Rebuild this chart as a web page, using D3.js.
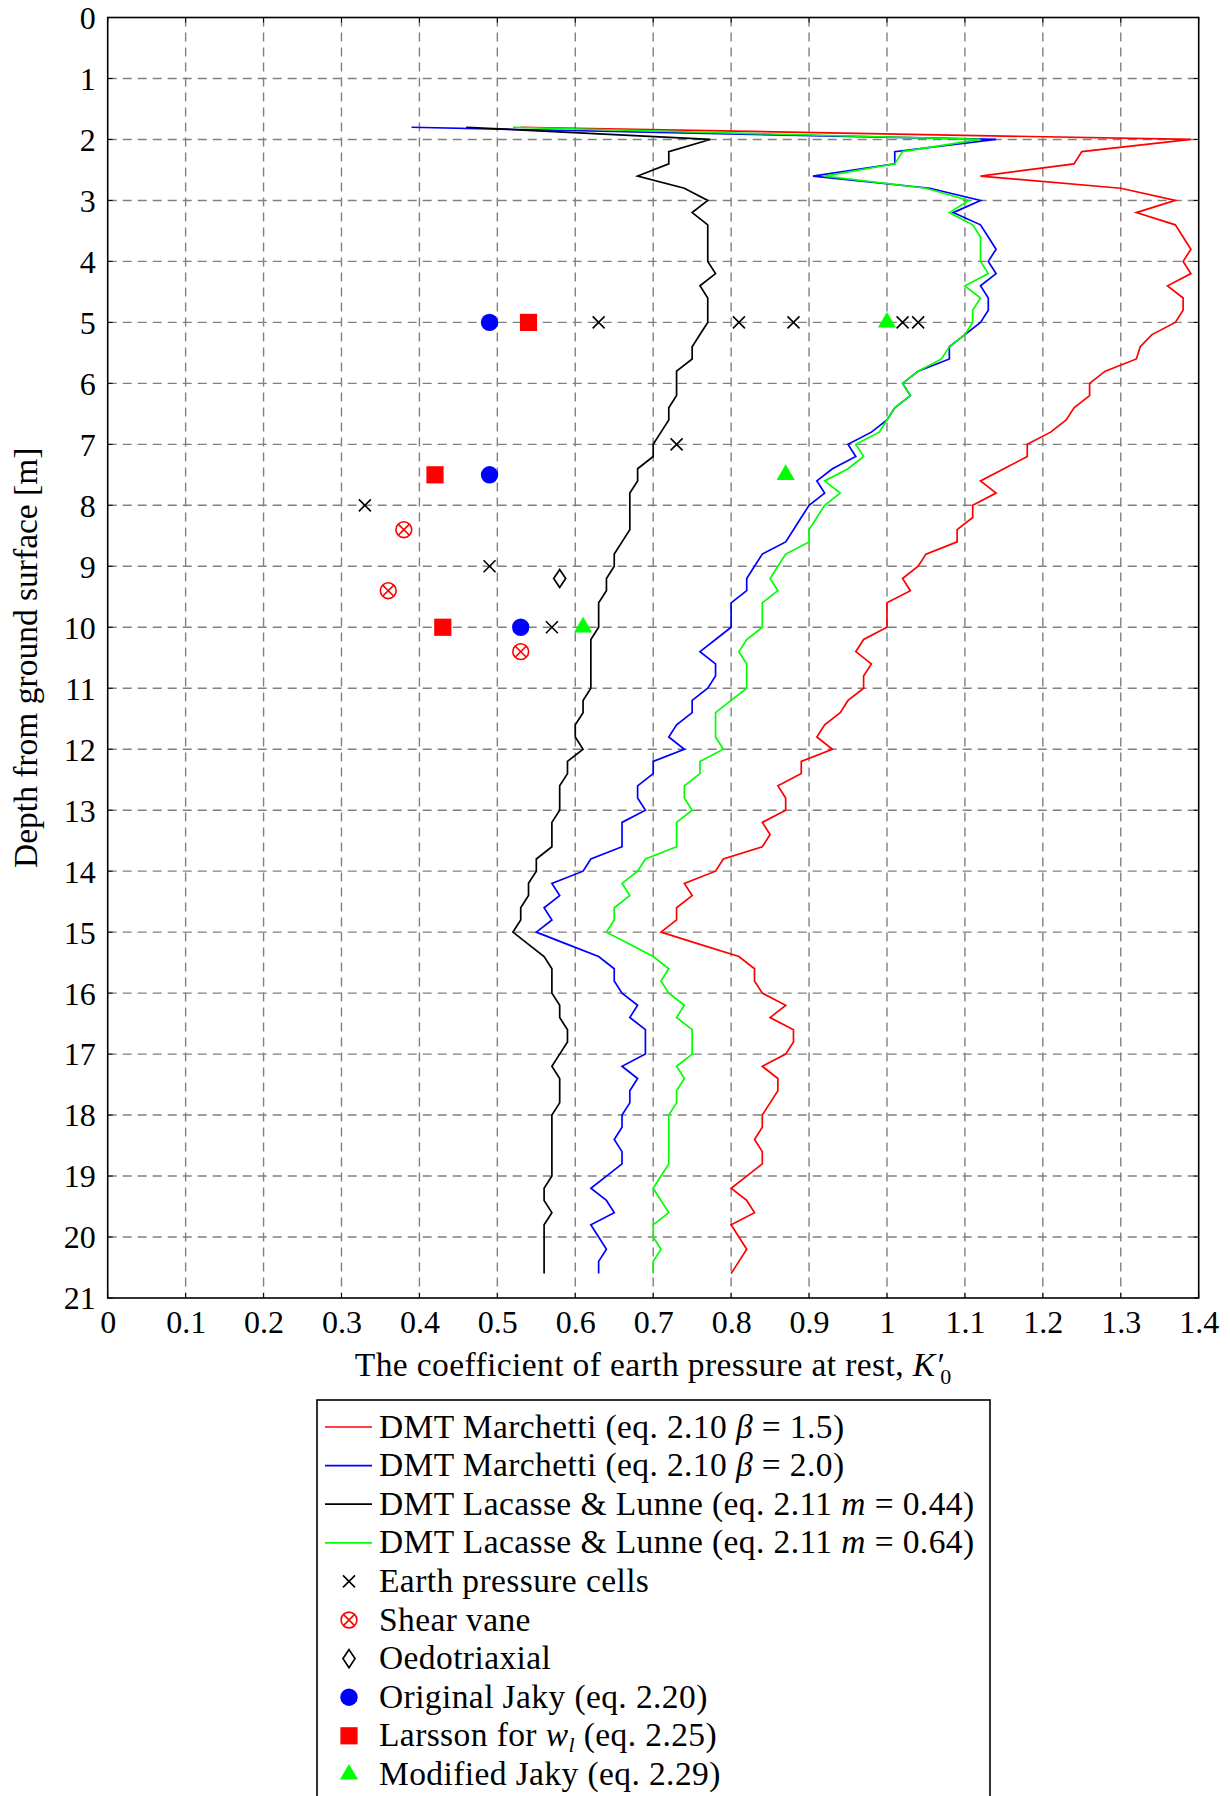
<!DOCTYPE html>
<html>
<head>
<meta charset="utf-8">
<script src="https://cdn.jsdelivr.net/npm/d3@7"></script>
<style>
	body { margin: 0; background: #fff; }
	svg text { font-family: "Liberation Serif", "DejaVu Serif", serif; fill: #000; }
</style>
</head>
<body>
<svg id="chart" width="1230" height="1796"></svg>
<script>
// depth below ground surface [m] for every DMT reading
const depths = [1.8, 2.0, 2.2, 2.4, 2.6, 2.8, 3.0, 3.2, 3.4, 3.6, 3.8, 4.0, 4.2, 4.4, 4.6, 4.8,
	5.0, 5.2, 5.4, 5.6, 5.8, 6.0, 6.2, 6.4, 6.6, 6.8, 7.0, 7.2, 7.4, 7.6, 7.8, 8.0, 8.2, 8.4,
	8.6, 8.8, 9.0, 9.2, 9.4, 9.6, 9.8, 10.0, 10.2, 10.4, 10.6, 10.8, 11.0, 11.2, 11.4, 11.6,
	11.8, 12.0, 12.2, 12.4, 12.6, 12.8, 13.0, 13.2, 13.4, 13.6, 13.8, 14.0, 14.2, 14.4, 14.6,
	14.8, 15.0, 15.2, 15.4, 15.6, 15.8, 16.0, 16.2, 16.4, 16.6, 16.8, 17.0, 17.2, 17.4, 17.6,
	17.8, 18.0, 18.2, 18.4, 18.6, 18.8, 19.0, 19.2, 19.4, 19.6, 19.8, 20.0, 20.2, 20.4, 20.6];

// DMT Marchetti, beta = 1.5
const marchetti15 = [0.53, 1.39, 1.25, 1.24, 1.12, 1.30, 1.37, 1.32, 1.37, 1.38, 1.39, 1.38, 1.39, 1.36, 1.38, 1.38,
	1.37, 1.34, 1.325, 1.32, 1.28, 1.26, 1.26, 1.24, 1.23, 1.21, 1.18, 1.18, 1.15, 1.12, 1.14, 1.11, 1.11, 1.09,
	1.09, 1.05, 1.04, 1.02, 1.03, 1.00, 1.00, 1.00, 0.97, 0.96, 0.98, 0.97, 0.97, 0.95, 0.94, 0.92,
	0.91, 0.93, 0.89, 0.89, 0.86, 0.87, 0.87, 0.84, 0.85, 0.84, 0.79, 0.78, 0.74, 0.75, 0.73,
	0.73, 0.71, 0.76, 0.81, 0.83, 0.83, 0.84, 0.87, 0.85, 0.88, 0.88, 0.87, 0.84, 0.86, 0.86,
	0.85, 0.84, 0.84, 0.83, 0.84, 0.84, 0.82, 0.80, 0.82, 0.83, 0.80, 0.81, 0.82, 0.81, 0.80];

// DMT Marchetti, beta = 2.0
const marchetti20 = [0.39, 1.14, 1.01, 1.01, 0.905, 1.055, 1.12, 1.085, 1.12, 1.13, 1.14, 1.13, 1.14, 1.12, 1.13, 1.13,
	1.12, 1.10, 1.08, 1.08, 1.04, 1.02, 1.03, 1.01, 1.00, 0.98, 0.95, 0.96, 0.93, 0.91, 0.92, 0.90, 0.89, 0.88,
	0.87, 0.84, 0.83, 0.82, 0.82, 0.80, 0.80, 0.80, 0.78, 0.76, 0.78, 0.78, 0.77, 0.75, 0.75, 0.73,
	0.72, 0.74, 0.70, 0.70, 0.68, 0.68, 0.69, 0.66, 0.66, 0.66, 0.62, 0.61, 0.57, 0.58, 0.56,
	0.57, 0.55, 0.59, 0.63, 0.65, 0.65, 0.66, 0.68, 0.67, 0.69, 0.69, 0.69, 0.66, 0.68, 0.67,
	0.67, 0.66, 0.66, 0.65, 0.66, 0.66, 0.64, 0.62, 0.64, 0.65, 0.62, 0.63, 0.64, 0.63, 0.63];

// DMT Lacasse & Lunne, m = 0.44
const lacasse044 = [0.46, 0.773, 0.72, 0.72, 0.68, 0.74, 0.77, 0.75, 0.77, 0.77, 0.77, 0.77, 0.78, 0.76, 0.77, 0.77,
	0.77, 0.76, 0.75, 0.75, 0.73, 0.73, 0.73, 0.72, 0.72, 0.71, 0.70, 0.70, 0.68, 0.68, 0.67, 0.67, 0.67, 0.67,
	0.66, 0.65, 0.65, 0.64, 0.64, 0.63, 0.63, 0.63, 0.62, 0.62, 0.62, 0.62, 0.62, 0.61, 0.61, 0.60,
	0.60, 0.61, 0.59, 0.59, 0.58, 0.58, 0.58, 0.57, 0.57, 0.57, 0.55, 0.55, 0.54, 0.54, 0.53,
	0.53, 0.52, 0.54, 0.56, 0.57, 0.57, 0.57, 0.58, 0.58, 0.59, 0.59, 0.58, 0.57, 0.58, 0.58,
	0.58, 0.57, 0.57, 0.57, 0.57, 0.57, 0.57, 0.56, 0.56, 0.57, 0.56, 0.56, 0.56, 0.56, 0.56];

// DMT Lacasse & Lunne, m = 0.64
const lacasse064 = [0.52, 1.12, 1.02, 1.01, 0.92, 1.05, 1.105, 1.08, 1.11, 1.12, 1.12, 1.12, 1.13, 1.10, 1.12, 1.11,
	1.11, 1.10, 1.08, 1.07, 1.04, 1.02, 1.03, 1.01, 1.00, 0.99, 0.96, 0.97, 0.95, 0.92, 0.94, 0.92, 0.91, 0.90,
	0.90, 0.87, 0.86, 0.85, 0.86, 0.84, 0.84, 0.84, 0.82, 0.81, 0.82, 0.82, 0.82, 0.80, 0.78, 0.78,
	0.78, 0.79, 0.76, 0.76, 0.74, 0.74, 0.75, 0.73, 0.73, 0.73, 0.69, 0.68, 0.66, 0.67, 0.65,
	0.65, 0.64, 0.67, 0.70, 0.72, 0.71, 0.72, 0.74, 0.73, 0.75, 0.75, 0.75, 0.73, 0.74, 0.73,
	0.73, 0.72, 0.72, 0.72, 0.72, 0.72, 0.71, 0.70, 0.71, 0.72, 0.70, 0.70, 0.71, 0.70, 0.70];

// point measurements [K0, depth]
const pressureCells = [[0.63, 5], [0.81, 5], [0.88, 5], [1.02, 5], [1.04, 5], [0.73, 7], [0.33, 8], [0.49, 9], [0.57, 10]];
const shearVane = [[0.38, 8.4], [0.36, 9.4], [0.53, 10.4]];
const oedotriaxial = [[0.58, 9.2]];
const originalJaky = [[0.49, 5], [0.49, 7.5], [0.53, 10]];
const larsson = [[0.54, 5], [0.42, 7.5], [0.43, 10]];
const modifiedJaky = [[1.0, 5], [0.87, 7.5], [0.61, 10]];

const xTicks = [0, 0.1, 0.2, 0.3, 0.4, 0.5, 0.6, 0.7, 0.8, 0.9, 1, 1.1, 1.2, 1.3, 1.4];
const yTicks = [0, 1, 2, 3, 4, 5, 6, 7, 8, 9, 10, 11, 12, 13, 14, 15, 16, 17, 18, 19, 20, 21];

const LEFT = 107.7,
	  RIGHT = 1198.7,
	  TOP = 17.5,
	  BOTTOM = 1298;

const FONT = 32,
	  TEXT_FONT = 33.5;

let svg = d3.select("#chart");

let x = d3.scaleLinear().domain([0, 1.4]).range([LEFT, RIGHT]),
	y = d3.scaleLinear().domain([0, 21]).range([TOP, BOTTOM]);

svg.append("rect")
		.attr("width", 1230)
		.attr("height", 1796)
		.attr("fill", "#fff");

// dashed grid
let grid = svg.append("g");

xTicks.slice(1, -1).forEach(v => {
	grid.append("line")
			.attr("x1", x(v)).attr("x2", x(v))
			.attr("y1", TOP).attr("y2", BOTTOM);
});
yTicks.slice(1, -1).forEach(d => {
	grid.append("line")
			.attr("x1", LEFT).attr("x2", RIGHT)
			.attr("y1", y(d)).attr("y2", y(d));
});
grid.selectAll("line")
		.attr("stroke", "#808080")
		.attr("stroke-width", 1.4)
		.attr("stroke-dasharray", "9,6");

// axes (labels only, ticks drawn inward below)
let xAxis = svg.append("g")
		.attr("transform", "translate(0," + BOTTOM + ")")
		.call(d3.axisBottom(x).tickValues(xTicks).tickSize(0).tickPadding(12).tickFormat(d3.format("~g")));

let yAxis = svg.append("g")
		.attr("transform", "translate(" + LEFT + ",0)")
		.call(d3.axisLeft(y).tickValues(yTicks).tickSize(0).tickPadding(12).tickFormat(d3.format("d")));

[xAxis, yAxis].forEach(a => {
	a.select(".domain").remove();
	a.selectAll("text")
			.style("font-family", "'Liberation Serif', serif")
			.style("font-size", FONT + "px")
			.attr("fill", "#000");
});
xAxis.selectAll("text").attr("dy", "0.72em");
yAxis.selectAll("text").attr("dy", "0.34em");

// small inward ticks on all sides
let ticks = svg.append("g").attr("stroke", "#000").attr("stroke-width", 1);
xTicks.forEach(v => {
	ticks.append("line").attr("x1", x(v)).attr("x2", x(v)).attr("y1", BOTTOM).attr("y2", BOTTOM - 5);
	ticks.append("line").attr("x1", x(v)).attr("x2", x(v)).attr("y1", TOP).attr("y2", TOP + 5);
});
yTicks.forEach(d => {
	ticks.append("line").attr("x1", LEFT).attr("x2", LEFT + 5).attr("y1", y(d)).attr("y2", y(d));
	ticks.append("line").attr("x1", RIGHT).attr("x2", RIGHT - 5).attr("y1", y(d)).attr("y2", y(d));
});

// DMT curves
let line = d3.line()
		.x(p => x(p[0]))
		.y(p => y(p[1]));

let curves = [
	{values: marchetti15, color: "#ff0000"},
	{values: marchetti20, color: "#0000ff"},
	{values: lacasse044, color: "#000000"},
	{values: lacasse064, color: "#00ff00"}
];

curves.forEach(c => {
	svg.append("path")
			.datum(c.values.map((v, i) => [v, depths[i]]))
			.attr("fill", "none")
			.attr("stroke", c.color)
			.attr("stroke-width", 1.7)
			.attr("stroke-linejoin", "miter")
			.attr("d", line);
});

// draw one marker centred on cx, cy
function drawMark(g, type, cx, cy) {
	let m = g.append("g").attr("transform", "translate(" + cx + "," + cy + ")");

	if (type == "cross") {
		m.append("path")
				.attr("d", "M-6,-6L6,6M-6,6L6,-6")
				.attr("stroke", "#000")
				.attr("stroke-width", 1.6);
	}
	else if (type == "otimes") {
		m.append("circle")
				.attr("r", 7.9)
				.attr("fill", "none")
				.attr("stroke", "#ff0000")
				.attr("stroke-width", 1.6);
		m.append("path")
				.attr("d", "M-5.6,-5.6L5.6,5.6M-5.6,5.6L5.6,-5.6")
				.attr("stroke", "#ff0000")
				.attr("stroke-width", 1.6);
	}
	else if (type == "diamond") {
		m.append("path")
				.attr("d", "M0,-9L6,0L0,9L-6,0Z")
				.attr("fill", "#fff")
				.attr("stroke", "#000")
				.attr("stroke-width", 1.7);
	}
	else if (type == "circle") {
		m.append("circle")
				.attr("r", 8.7)
				.attr("fill", "#0000ff");
	}
	else if (type == "square") {
		m.append("rect")
				.attr("x", -8.6).attr("y", -8.6)
				.attr("width", 17.2).attr("height", 17.2)
				.attr("fill", "#ff0000");
	}
	else if (type == "triangle") {
		m.append("path")
				.attr("d", "M0,-10.5L9.1,5.2L-9.1,5.2Z")
				.attr("fill", "#00ff00");
	}
}

let marks = svg.append("g");
let markSets = [
	{points: pressureCells, type: "cross"},
	{points: shearVane, type: "otimes"},
	{points: oedotriaxial, type: "diamond"},
	{points: originalJaky, type: "circle"},
	{points: larsson, type: "square"},
	{points: modifiedJaky, type: "triangle"}
];
markSets.forEach(s => {
	s.points.forEach(p => drawMark(marks, s.type, x(p[0]), y(p[1])));
});

// frame
svg.append("rect")
		.attr("x", LEFT).attr("y", TOP)
		.attr("width", RIGHT - LEFT).attr("height", BOTTOM - TOP)
		.attr("fill", "none")
		.attr("stroke", "#000")
		.attr("stroke-width", 1.6);

// axis titles
let xTitle = svg.append("text")
		.attr("x", (LEFT + RIGHT) / 2)
		.attr("y", 1376)
		.attr("text-anchor", "middle")
		.style("font-size", TEXT_FONT + "px")
		.style("letter-spacing", "0.4px");
xTitle.append("tspan").text("The coefficient of earth pressure at rest, ");
xTitle.append("tspan").style("font-style", "italic").text("K\u2032");
xTitle.append("tspan").attr("dx", -3).attr("dy", 8).style("font-size", "22px").text("0");

svg.append("text")
		.attr("transform", "translate(37," + ((TOP + BOTTOM) / 2) + ") rotate(-90)")
		.attr("text-anchor", "middle")
		.style("font-size", TEXT_FONT + "px")
		.text("Depth from ground surface [m]");

// legend
const LEG_LEFT = 317,
	  LEG_TOP = 1400,
	  LEG_RIGHT = 990,
	  ROW0 = 1427,
	  ROW_H = 38.6;

svg.append("rect")
		.attr("x", LEG_LEFT).attr("y", LEG_TOP)
		.attr("width", LEG_RIGHT - LEG_LEFT).attr("height", 420)
		.attr("fill", "#fff")
		.attr("stroke", "#000")
		.attr("stroke-width", 1.6);

let legendRows = [
	{kind: "line", color: "#ff0000", parts: [["DMT Marchetti (eq. 2.10 "], ["\u03b2", "i"], [" = 1.5)"]]},
	{kind: "line", color: "#0000ff", parts: [["DMT Marchetti (eq. 2.10 "], ["\u03b2", "i"], [" = 2.0)"]]},
	{kind: "line", color: "#000000", parts: [["DMT Lacasse & Lunne (eq. 2.11 "], ["m", "i"], [" = 0.44)"]]},
	{kind: "line", color: "#00ff00", parts: [["DMT Lacasse & Lunne (eq. 2.11 "], ["m", "i"], [" = 0.64)"]]},
	{kind: "cross", parts: [["Earth pressure cells"]]},
	{kind: "otimes", parts: [["Shear vane"]]},
	{kind: "diamond", parts: [["Oedotriaxial"]]},
	{kind: "circle", parts: [["Original Jaky (eq. 2.20)"]]},
	{kind: "square", parts: [["Larsson for "], ["w", "i"], ["l", "sub"], [" (eq. 2.25)"]]},
	{kind: "triangle", parts: [["Modified Jaky (eq. 2.29)"]]}
];

let legend = svg.append("g");
legendRows.forEach((r, i) => {
	let cy = ROW0 + i * ROW_H;

	if (r.kind == "line") {
		legend.append("line")
				.attr("x1", 325).attr("x2", 372)
				.attr("y1", cy).attr("y2", cy)
				.attr("stroke", r.color)
				.attr("stroke-width", 1.7);
	}
	else {
		drawMark(legend, r.kind, 349, cy);
	}

	let t = legend.append("text")
			.attr("x", 379)
			.attr("y", cy + 10.5)
			.style("font-size", TEXT_FONT + "px")
			.style("letter-spacing", "0.4px");

	r.parts.forEach(p => {
		let s = t.append("tspan").text(p[0]);
		if (p[1] == "i") {
			s.style("font-style", "italic");
		}
		else if (p[1] == "sub") {
			s.style("font-style", "italic").style("font-size", "22px").attr("dy", 6);
		}
	});
	// undo subscript shift for following text
	if (r.parts.some(p => p[1] == "sub")) {
		t.selectAll("tspan").filter((d, k) => k == r.parts.length - 1).attr("dy", -6);
	}
});
</script>
</body>
</html>
